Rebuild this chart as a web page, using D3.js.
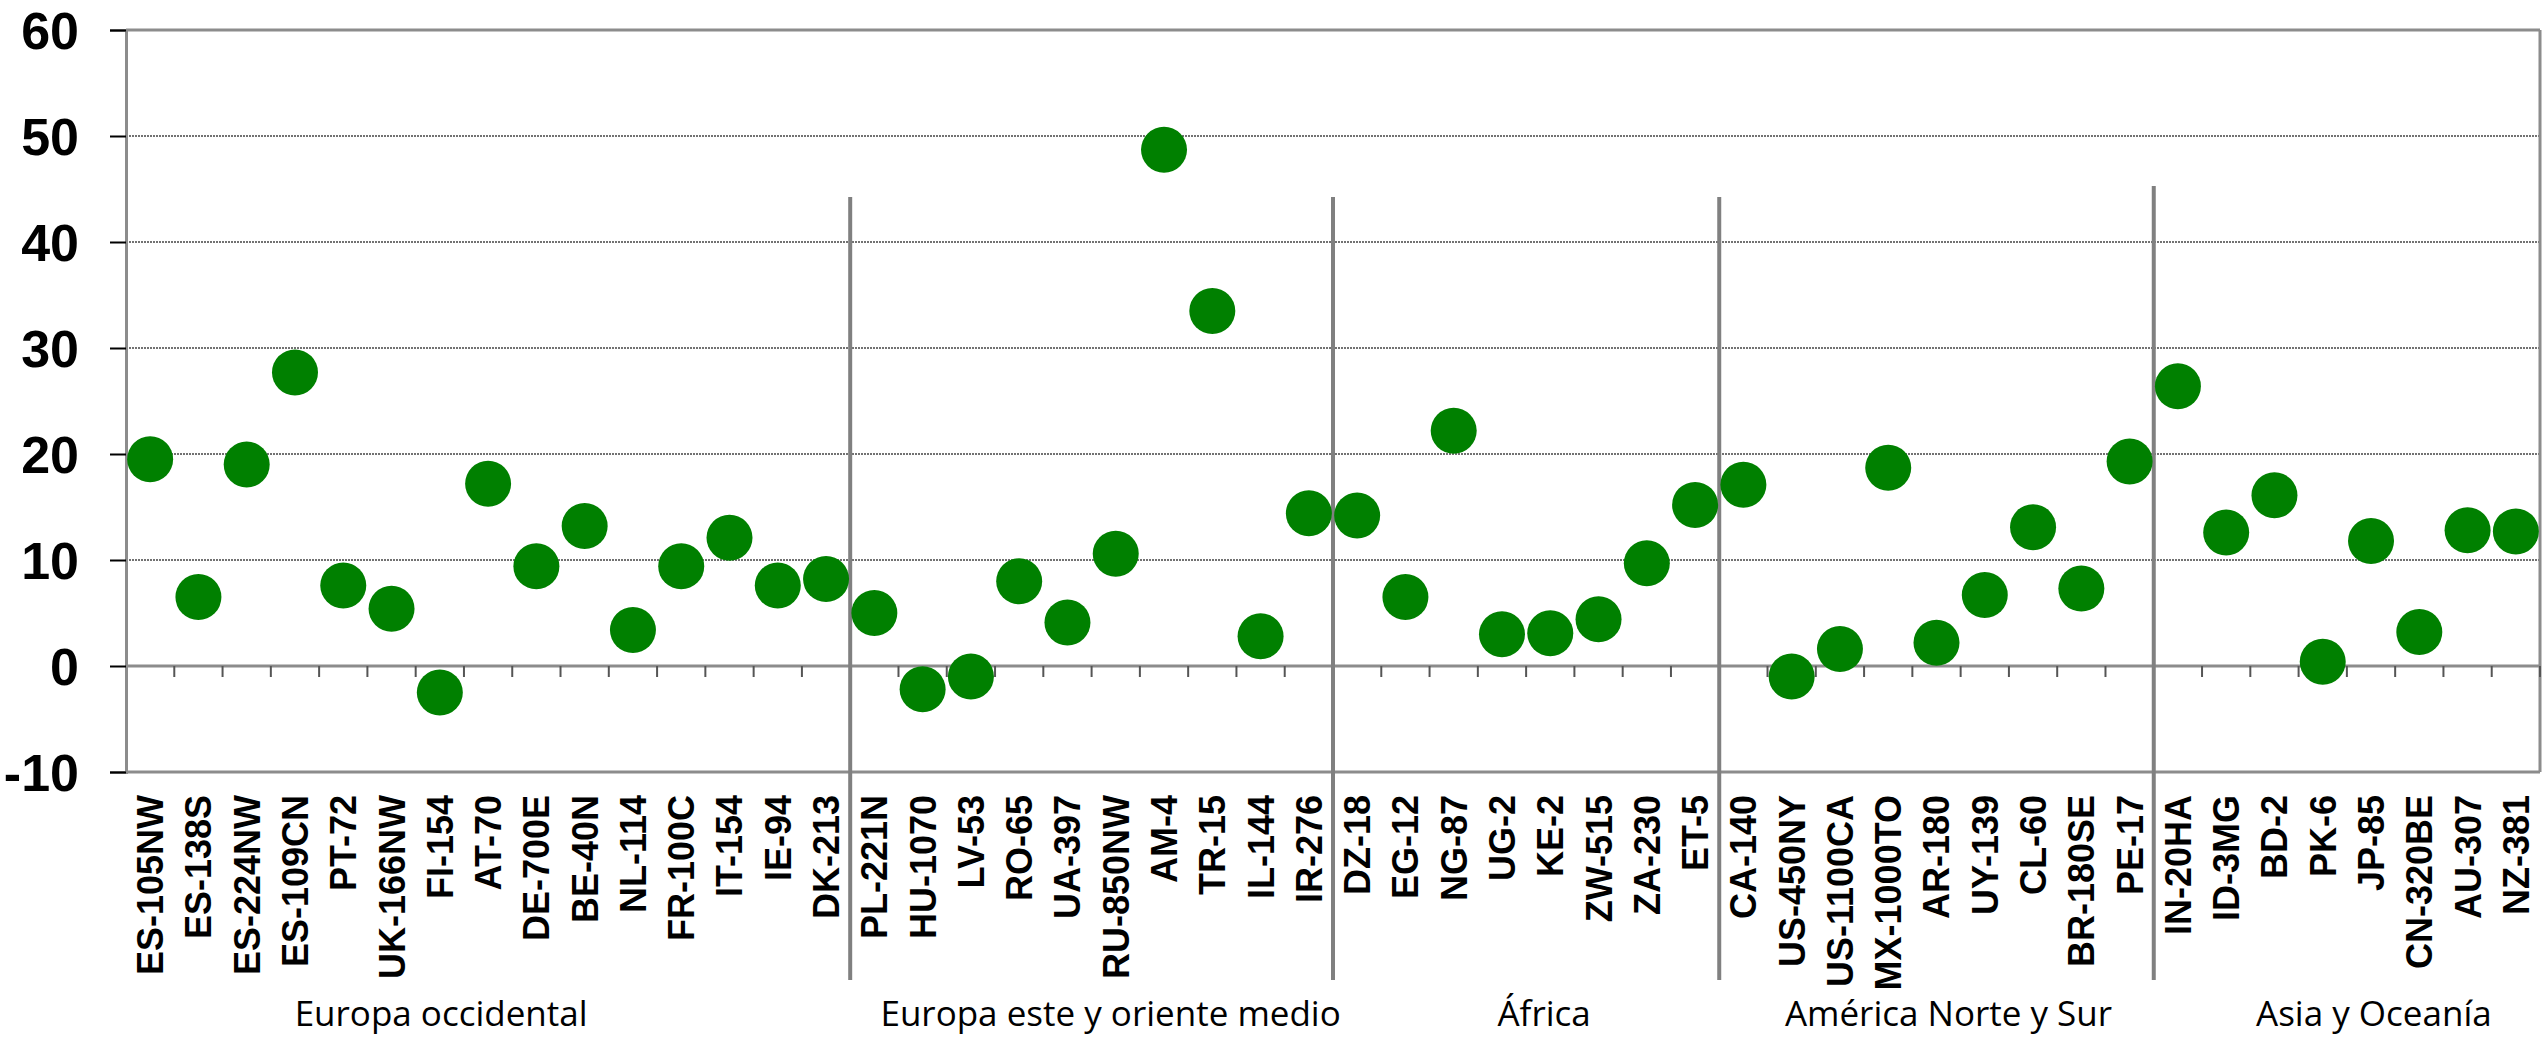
<!DOCTYPE html>
<html>
<head>
<meta charset="utf-8">
<script src="https://cdn.jsdelivr.net/npm/d3@7"></script>
<style>
  html, body { margin: 0; padding: 0; background: #fff; }
  svg { display: block; }
</style>
</head>
<body>
<svg id="chart" width="2542" height="1039"></svg>
<script>
// ---- data ----
const categories = [
  "ES-105NW","ES-138S","ES-224NW","ES-109CN","PT-72","UK-166NW","FI-154","AT-70","DE-700E","BE-40N",
  "NL-114","FR-100C","IT-154","IE-94","DK-213",
  "PL-221N","HU-1070","LV-53","RO-65","UA-397","RU-850NW","AM-4","TR-15","IL-144","IR-276",
  "DZ-18","EG-12","NG-87","UG-2","KE-2","ZW-515","ZA-230","ET-5",
  "CA-140","US-450NY","US-1100CA","MX-1000TO","AR-180","UY-139","CL-60","BR-180SE","PE-17",
  "IN-20HA","ID-3MG","BD-2","PK-6","JP-85","CN-320BE","AU-307","NZ-381"
];
const values = [
  19.5, 6.5, 19.0, 27.7, 7.6, 5.4, -2.5, 17.2, 9.4, 13.2,
  3.4, 9.4, 12.1, 7.6, 8.2,
  5.0, -2.2, -1.0, 8.0, 4.1, 10.6, 48.7, 33.5, 2.8, 14.4,
  14.2, 6.5, 22.2, 3.0, 3.1, 4.4, 9.7, 15.2,
  17.1, -1.0, 1.6, 18.7, 2.2, 6.7, 13.1, 7.3, 19.3,
  26.4, 12.6, 16.1, 0.4, 11.8, 3.2, 12.8, 12.7
];
const groupNames = ["Europa occidental","Europa este y oriente medio","África","América Norte y Sur","Asia y Oceanía"];
const groupSizes = [15, 10, 8, 9, 8];
const yTicks = [-10, 0, 10, 20, 30, 40, 50, 60];

// ---- layout ----
const plotL = 126, plotR = 2540, plotT = 30, plotB = 772;
const svg = d3.select("#chart");

const x = d3.scaleBand().domain(categories).range([plotL, plotR]).padding(0);
const y = d3.scaleLinear().domain([-10, 60]).range([plotB, plotT]);
const bw = x.bandwidth();

// gridlines (dotted) for inner ticks
svg.append("g").selectAll("line").data(yTicks.filter(t => t !== -10 && t !== 0 && t !== 60))
  .join("line")
  .attr("x1", plotL).attr("x2", plotR)
  .attr("y1", d => y(d)).attr("y2", d => y(d))
  .attr("stroke", "#444").attr("stroke-width", 1.5).attr("stroke-dasharray", "2,1");

// top, zero, bottom lines (solid gray)
svg.append("g").selectAll("line").data([60, 0, -10])
  .join("line")
  .attr("x1", plotL).attr("x2", plotR)
  .attr("y1", d => y(d)).attr("y2", d => y(d))
  .attr("stroke", "#8c8c8c").attr("stroke-width", 3);

// right border
svg.append("line").attr("x1", plotR).attr("x2", plotR).attr("y1", y(60)).attr("y2", y(-10))
  .attr("stroke", "#8c8c8c").attr("stroke-width", 3);

// x ticks on zero line at category boundaries
const boundaries = categories.map(c => x(c)).slice(1).concat([plotR]);
svg.append("g").selectAll("line").data(boundaries)
  .join("line")
  .attr("x1", d => d).attr("x2", d => d)
  .attr("y1", y(0)).attr("y2", y(0) + 11)
  .attr("stroke", "#555").attr("stroke-width", 2);

// y axis
const yAxis = d3.axisLeft(y).tickValues(yTicks).tickSize(16).tickPadding(31).tickFormat(d => String(d));
const gy = svg.append("g").attr("transform", `translate(${plotL},0)`).call(yAxis);
gy.select(".domain").attr("stroke", "#8c8c8c").attr("stroke-width", 3);
gy.selectAll(".tick line").attr("stroke", "#000").attr("stroke-width", 2);
gy.selectAll(".tick text")
  .attr("font-family", "'Liberation Sans', Arial, sans-serif")
  .attr("font-weight", "bold").attr("font-size", 52).attr("fill", "#000")
  .attr("dy", "0.36em");

// group separators
let acc = 0;
const groupStarts = groupSizes.map(s => { const st = acc; acc += s; return st; });
const sepIdx = groupStarts.slice(1);
svg.append("g").selectAll("line").data(sepIdx)
  .join("line")
  .attr("x1", d => x(categories[d])).attr("x2", d => x(categories[d]))
  .attr("y1", (d, i) => i === 3 ? 186 : 197).attr("y2", 980)
  .attr("stroke", "#808080").attr("stroke-width", 4);

// points
svg.append("g").selectAll("circle").data(values)
  .join("circle")
  .attr("cx", (d, i) => x(categories[i]) + bw / 2)
  .attr("cy", d => y(d))
  .attr("r", 23)
  .attr("fill", "#008000");

// x labels
svg.append("g").selectAll("text").data(categories)
  .join("text")
  .attr("transform", d => `translate(${x(d) + bw / 2},795) rotate(-90)`)
  .attr("text-anchor", "end")
  .attr("dy", "0.36em")
  .attr("font-family", "'Liberation Sans', Arial, sans-serif")
  .attr("font-weight", "bold").attr("font-size", 36).attr("fill", "#000")
  .text(d => d);

// group labels
const labelShift = [-47, 19, 18, 12, 27];
svg.append("g").selectAll("text").data(groupNames)
  .join("text")
  .attr("x", (d, i) => {
    const a = x(categories[groupStarts[i]]);
    const b = a + groupSizes[i] * bw;
    return (a + b) / 2 + labelShift[i];
  })
  .attr("y", 1026)
  .attr("text-anchor", "middle")
  .attr("font-family", "'Open Sans', 'Noto Sans', sans-serif")
  .attr("font-size", 35).attr("fill", "#000")
  .text(d => d);
</script>
</body>
</html>
